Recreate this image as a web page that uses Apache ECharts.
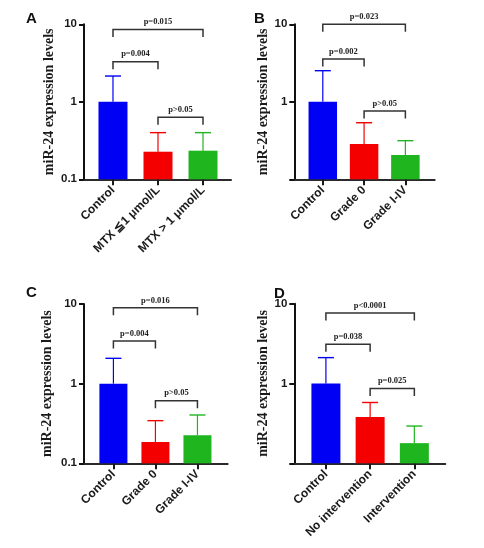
<!DOCTYPE html>
<html>
<head>
<meta charset="utf-8">
<script src="https://cdn.jsdelivr.net/npm/echarts@6/dist/echarts.min.js"></script>
<style>html,body{margin:0;padding:0;background:#fff;}#c{width:484px;height:548px;}</style>
</head>
<body>
<div id="c"></div>
<script>
// ---- data ----
const panelLetters = ['A', 'B', 'C', 'D'];
const yAxisTitle = 'miR-24 expression levels';
const yTickLabels = ['0.1', '1', '10'];

const catA = ['Control', 'MTX \u22661 \u03bcmol/L', 'MTX > 1 \u03bcmol/L'];
const meanA = [1.0, 0.227, 0.234];
const upperA = [2.15, 0.40, 0.40];
const bracketA = [[0, 2, 8.6], [0, 1, 3.29], [1, 2, 0.63]];
const pLabelA = ['p=0.015', 'p=0.004', 'p>0.05'];

const catB = ['Control', 'Grade 0', 'Grade I-IV'];
const meanB = [1.0, 0.286, 0.206];
const upperB = [2.52, 0.537, 0.315];
const bracketB = [[0, 2, 10.0], [0, 1, 3.57], [1, 2, 0.76]];
const pLabelB = ['p=0.023', 'p=0.002', 'p>0.05'];

const catC = ['Control', 'Grade 0', 'Grade I-IV'];
const meanC = [1.0, 0.185, 0.225];
const upperC = [2.08, 0.343, 0.404];
const bracketC = [[0, 2, 8.96], [0, 1, 3.42], [1, 2, 0.61]];
const pLabelC = ['p=0.016', 'p=0.004', 'p>0.05'];

const catD = ['Control', 'No intervention', 'Intervention'];
const meanD = [1.0, 0.379, 0.179];
const upperD = [2.11, 0.578, 0.293];
const bracketD = [[0, 2, 7.63], [0, 1, 3.1], [1, 2, 0.866]];
const pLabelD = ['p<0.0001', 'p=0.038', 'p=0.025'];

// ---- layout / style ----
const barColors = ['#0000f5', '#f50000', '#1fb51f'];
const panels = [
  { cats: catA, mean: meanA, upper: upperA, br: bracketA, pl: pLabelA, grid: { left: 84, top: 24.3, width: 147, height: 155 }, xmin: -0.644, xmax: 2.622, barW: 29, showBottom: true, nameGap: 28, letter: { left: 26, top: 11 } },
  { cats: catB, mean: meanB, upper: upperB, br: bracketB, pl: pLabelB, grid: { left: 294.3, top: 24.3, width: 140.4, height: 155 }, xmin: -0.69, xmax: 2.71, barW: 28.5, showBottom: false, nameGap: 24, letter: { left: 254, top: 11 } },
  { cats: catC, mean: meanC, upper: upperC, br: bracketC, pl: pLabelC, grid: { left: 84, top: 304, width: 143.7, height: 159.3 }, xmin: -0.70, xmax: 2.72, barW: 28, showBottom: true, nameGap: 30, letter: { left: 26, top: 285 } },
  { cats: catD, mean: meanD, upper: upperD, br: bracketD, pl: pLabelD, grid: { left: 294.3, top: 303.7, width: 151, height: 159.6 }, xmin: -0.715, xmax: 2.70, barW: 29, showBottom: false, nameGap: 24, letter: { left: 274, top: 286 } }
];

const sansBold = { fontFamily: 'Liberation Sans', fontWeight: 'bold', color: '#1a1a1a' };

const option = { backgroundColor: '#fff', animation: false, title: [], grid: [], xAxis: [], yAxis: [], series: [] };

panels.forEach((p, i) => {
  option.title.push({ text: panelLetters[i], left: p.letter.left, top: p.letter.top, padding: 0,
    textStyle: { fontFamily: 'Liberation Sans', fontWeight: 'bold', fontSize: 15, color: '#111' } });
  option.grid.push(Object.assign({ containLabel: false }, p.grid));
  const cats = p.cats;
  option.xAxis.push({
    type: 'value', gridIndex: i, min: p.xmin, max: p.xmax,
    splitLine: { show: false },
    axisLine: { show: true, onZero: false, lineStyle: { color: '#2a2a2a', width: 2 } },
    axisTick: { show: true, length: 6, customValues: [0, 1, 2], lineStyle: { color: '#1a1a1a', width: 2 } },
    axisLabel: Object.assign({ show: true, customValues: [0, 1, 2], rotate: 45, fontSize: 12, margin: 9,
      formatter: v => cats[Math.round(v)] }, sansBold)
  });
  const showBottom = p.showBottom;
  option.yAxis.push({
    type: 'log', logBase: 10, gridIndex: i, min: 0.1, max: 10,
    name: yAxisTitle, nameLocation: 'middle', nameGap: p.nameGap, nameRotate: 90,
    nameTextStyle: { fontFamily: 'Liberation Serif', fontWeight: 'bold', fontSize: 14, color: '#1a1a1a' },
    splitLine: { show: false }, minorTick: { show: false },
    axisLine: { show: true, onZero: false, lineStyle: { color: '#111', width: 2 } },
    axisTick: { show: true, length: 5, lineStyle: { color: '#111', width: 2 } },
    axisLabel: Object.assign({ fontSize: 11.5, margin: 7,
      formatter: v => { const k = Math.round(Math.log10(v)) + 1; if (k === 0 && !showBottom) return ''; return yTickLabels[k]; } }, sansBold)
  });
  // bars + error bars
  const barData = p.mean.map((m, j) => [j, m, p.upper[j]]);
  const barW = p.barW;
  option.series.push({
    type: 'custom', xAxisIndex: i, yAxisIndex: i, clip: false, z: 3,
    encode: { x: 0, y: [1, 2] },
    data: barData,
    renderItem: (params, api) => {
      const x = api.value(0), m = api.value(1), u = api.value(2);
      const base = api.coord([x, 0.1]);
      const top = api.coord([x, m]);
      const up = api.coord([x, u]);
      const c = barColors[params.dataIndex];
      const capW = 16;
      return { type: 'group', children: [
        { type: 'rect', shape: { x: base[0] - barW / 2, y: top[1], width: barW, height: base[1] - top[1] }, style: { fill: c } },
        { type: 'line', shape: { x1: top[0], y1: top[1], x2: up[0], y2: up[1] }, style: { stroke: c, lineWidth: 1.2 } },
        { type: 'line', shape: { x1: up[0] - capW / 2, y1: up[1], x2: up[0] + capW / 2, y2: up[1] }, style: { stroke: c, lineWidth: 1.4 } }
      ] };
    }
  });
  // significance brackets
  const labels = p.pl;
  option.series.push({
    type: 'custom', xAxisIndex: i, yAxisIndex: i, clip: false, z: 4,
    encode: { x: [0, 1], y: 2 },
    data: p.br,
    renderItem: (params, api) => {
      const a = api.coord([api.value(0), api.value(2)]);
      const b = api.coord([api.value(1), api.value(2)]);
      const leg = 7.5;
      return { type: 'group', children: [
        { type: 'polyline', shape: { points: [[a[0], a[1] + leg], [a[0], a[1]], [b[0], b[1]], [b[0], b[1] + leg]] },
          style: { stroke: '#333', lineWidth: 1.5, fill: null } },
        { type: 'text', x: (a[0] + b[0]) / 2, y: a[1] - 3,
          style: { text: labels[params.dataIndex], fontFamily: 'Liberation Serif', fontWeight: 'bold', fontSize: 8.5,
            fill: '#222', align: 'center', verticalAlign: 'bottom' } }
      ] };
    }
  });
});

const chart = echarts.init(document.getElementById('c'), null, { renderer: 'canvas' });
chart.setOption(option);
</script>
</body>
</html>
